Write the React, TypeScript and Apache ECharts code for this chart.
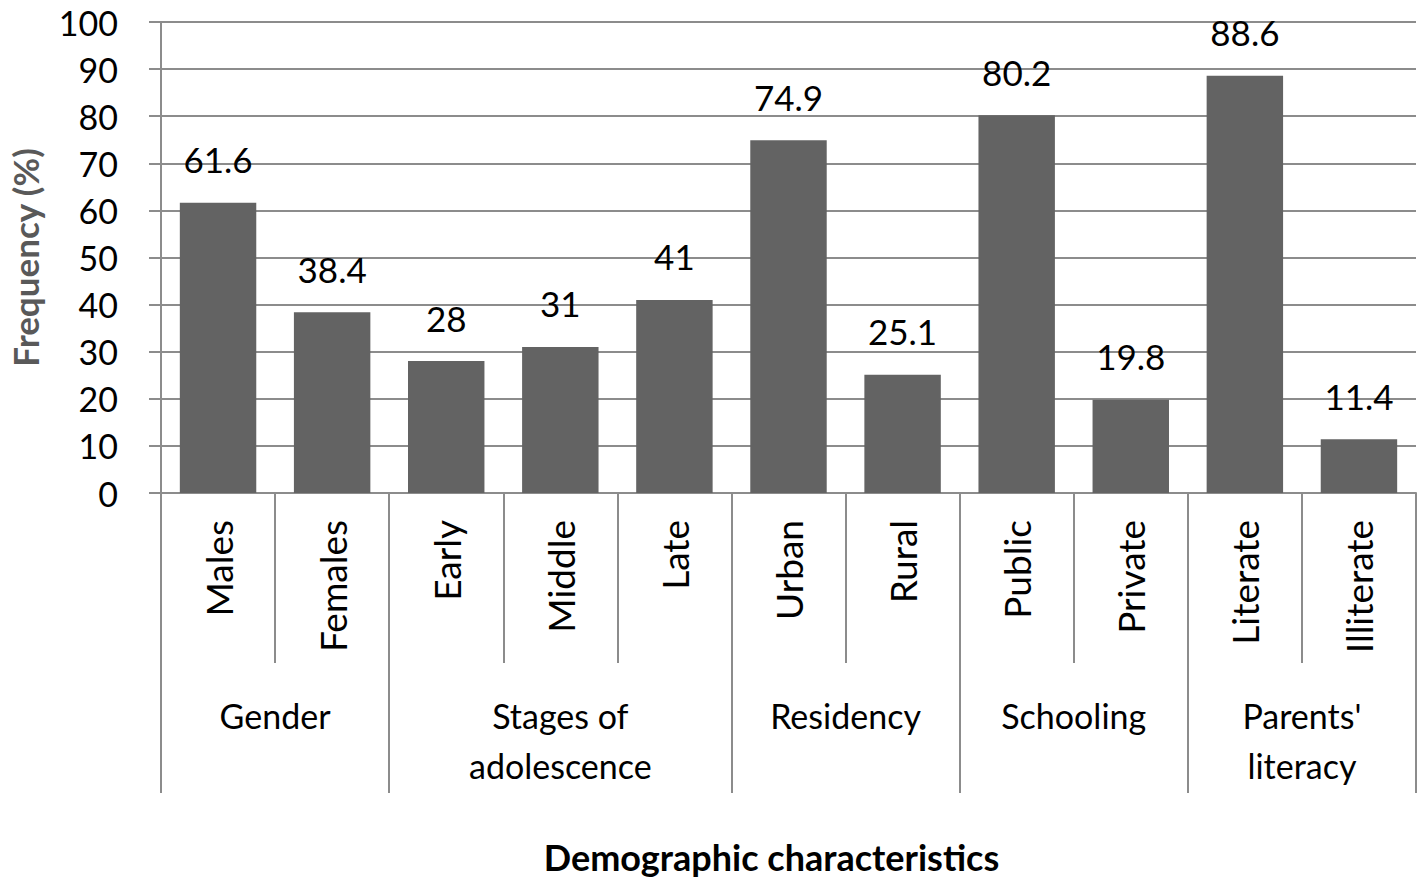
import React, { useEffect, useRef } from "react";
import * as echarts from "echarts";

const subCategories = ["Males", "Females", "Early", "Middle", "Late", "Urban", "Rural", "Public", "Private", "Literate", "Illiterate"];
const frequencies = [61.6, 38.4, 28, 31, 41, 74.9, 25.1, 80.2, 19.8, 88.6, 11.4];
const groupNames = ["Gender", "Stages of\nadolescence", "Residency", "Schooling", "Parents'\nliteracy"];
const groupSizes = [2, 3, 2, 2, 2];
const yTicks = { min: 0, max: 100, interval: 10 };

const FONT = "Lato";
const GRAY = "#8c8c8c";

// Half-category slot axis (2 slots per sub-category) for group labels and group separators
const slotCount = subCategories.length * 2 + 1;
const groupSlots: string[] = new Array(slotCount).fill("");
const boundarySlots: number[] = [0];
const labelSlots: number[] = [];
{
  let start = 0;
  groupSizes.forEach((size, i) => {
    labelSlots.push(start * 2 + size);
    groupSlots[start * 2 + size] = groupNames[i];
    start += size;
    boundarySlots.push(start * 2);
  });
}

export default function App() {
  const ref = useRef<HTMLDivElement>(null);
  useEffect(() => {
    document.body.style.margin = "0";
    const chart = echarts.init(ref.current!, null, { renderer: "svg" });
    chart.setOption({
      animation: false,
      backgroundColor: "#ffffff",
      grid: { left: 161, right: 5, top: 22, bottom: 394, containLabel: false, outerBoundsMode: "none" },
      xAxis: [
        {
          type: "category",
          data: subCategories,
          axisLine: { show: true, lineStyle: { color: GRAY, width: 2 } },
          axisTick: { show: true, interval: 0, length: 170, lineStyle: { color: GRAY, width: 2 } },
          axisLabel: { interval: 0, rotate: 90, margin: 27, fontSize: 37, color: "#000", fontFamily: FONT },
        },
        {
          type: "category",
          data: groupSlots,
          boundaryGap: false,
          position: "bottom",
          axisLine: { show: false },
          axisTick: {
            show: true,
            interval: (i: number) => boundarySlots.includes(i),
            length: 300,
            lineStyle: { color: GRAY, width: 2 },
          },
          axisLabel: {
            interval: (i: number) => labelSlots.includes(i),
            margin: 197,
            fontSize: 34,
            lineHeight: 50,
            color: "#000",
            fontFamily: FONT,
          },
          name: "Demographic characteristics",
          nameLocation: "middle",
          nameGap: 346,
          nameTextStyle: { fontSize: 36, fontWeight: "bold", color: "#000", fontFamily: FONT, padding: [0, 34, 0, 0] },
        },
      ],
      yAxis: {
        type: "value",
        min: yTicks.min,
        max: yTicks.max,
        interval: yTicks.interval,
        axisLine: { show: true, lineStyle: { color: GRAY, width: 2 } },
        axisTick: { show: true, length: 12, lineStyle: { color: GRAY, width: 2 } },
        splitLine: { show: true, lineStyle: { color: GRAY, width: 2 } },
        axisLabel: { margin: 43, fontSize: 34, color: "#000", fontFamily: FONT },
        name: "Frequency (%)",
        nameLocation: "middle",
        nameGap: 119,
        nameTextStyle: { fontSize: 35, fontWeight: "bold", color: "#595959", fontFamily: FONT },
      },
      series: [
        {
          type: "bar",
          xAxisIndex: 0,
          data: frequencies,
          barCategoryGap: "33%",
          itemStyle: { color: "#636363" },
          label: { show: true, position: "top", distance: 26, fontSize: 35, color: "#000", fontFamily: FONT },
        },
      ],
    });
    return () => chart.dispose();
  }, []);
  return <div ref={ref} style={{ width: 1421, height: 887 }} />;
}
